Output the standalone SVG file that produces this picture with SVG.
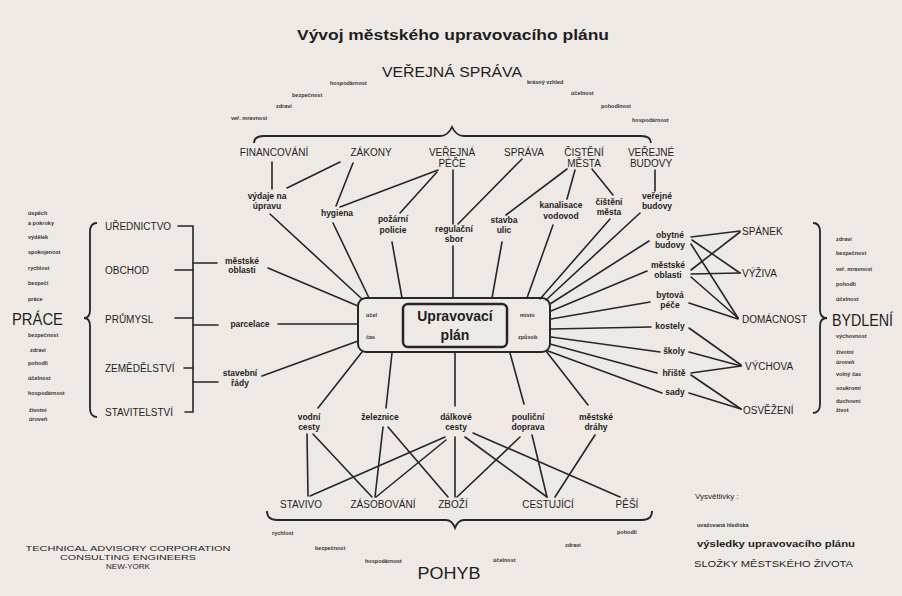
<svg xmlns="http://www.w3.org/2000/svg" width="902" height="596" viewBox="0 0 902 596">
<style>
text{font-family:"Liberation Sans",Arial,sans-serif;fill:#1e1e1e}
.t1{font-size:10px;text-anchor:middle}
.t1s{font-size:10px}
.b9{font-size:8.5px;font-weight:bold;text-anchor:middle}
.sm{font-size:5.5px;font-weight:bold;fill:#333}
.ln line,.ln path,.ln polyline{stroke:#262626;stroke-width:1.6;fill:none;stroke-linecap:round}
.br{stroke:#262626;stroke-width:1.8;fill:none}
</style>
<rect width="902" height="596" fill="#efe9e5"/>

<g id="title">
<text x="453" y="40" style="font-size:14px;font-weight:bold;text-anchor:middle" textLength="312" lengthAdjust="spacingAndGlyphs">Vývoj městského upravovacího plánu</text>
</g>

<g id="verejna-sprava">
<text x="452" y="77" style="font-size:14px;text-anchor:middle" textLength="140" lengthAdjust="spacingAndGlyphs">VEŘEJNÁ SPRÁVA</text>
<text class="sm" x="330" y="85">hospodárnost</text>
<text class="sm" x="292" y="97">bezpečnost</text>
<text class="sm" x="276" y="108">zdraví</text>
<text class="sm" x="231" y="120">veř. mravnost</text>
<text class="sm" x="527" y="84">krásný vzhled</text>
<text class="sm" x="571" y="95">účelnost</text>
<text class="sm" x="601" y="108">pohodlnost</text>
<text class="sm" x="632" y="122">hospodárnost</text>
<path class="br" d="M254,143 Q254,136 264,136 L440,136 Q448,136 452,127 Q456,136 464,136 L641,136 Q651,136 651,143"/>
</g>

<g id="prace">
<text x="12" y="325" style="font-size:16.5px" textLength="51" lengthAdjust="spacingAndGlyphs">PRÁCE</text>
<text class="sm" x="28" y="215">úspěch</text>
<text class="sm" x="28" y="225">a pokroky</text>
<text class="sm" x="28" y="239">výdělek</text>
<text class="sm" x="28" y="254">spokojenost</text>
<text class="sm" x="28" y="270">rychlost</text>
<text class="sm" x="28" y="285">bezpečí</text>
<text class="sm" x="28" y="301">práce</text>
<text class="sm" x="28" y="337">bezpečnost</text>
<text class="sm" x="30" y="352">zdraví</text>
<text class="sm" x="28" y="365">pohodlí</text>
<text class="sm" x="28" y="380">účelnost</text>
<text class="sm" x="28" y="395">hospodárnost</text>
<text class="sm" x="29" y="412">životní</text>
<text class="sm" x="29" y="421">úroveň</text>
<path class="br" d="M97,223 Q90,223 90,232 L90,310 Q90,318 84,318 Q90,318 90,326 L90,408 Q90,417 97,417"/>
</g>

<g id="bydleni">
<text x="832" y="326" style="font-size:16px" textLength="61" lengthAdjust="spacingAndGlyphs">BYDLENÍ</text>
<text class="sm" x="836" y="241">zdraví</text>
<text class="sm" x="836" y="255">bezpečnost</text>
<text class="sm" x="836" y="271">veř. mravnost</text>
<text class="sm" x="836" y="286">pohodlí</text>
<text class="sm" x="836" y="301">účelnost</text>
<text class="sm" x="836" y="338">výchovnost</text>
<text class="sm" x="836" y="354">životní</text>
<text class="sm" x="836" y="364">úroveň</text>
<text class="sm" x="836" y="376">volný čas</text>
<text class="sm" x="836" y="390">soukromí</text>
<text class="sm" x="836" y="403">duchovní</text>
<text class="sm" x="836" y="412">život</text>
<path class="br" d="M813,223 Q820,223 820,232 L820,310 Q820,318 827,318 Q820,318 820,326 L820,404 Q820,413 813,413"/>
</g>

<g id="pohyb">
<text x="449" y="579" style="font-size:16.5px;text-anchor:middle" textLength="63" lengthAdjust="spacingAndGlyphs">POHYB</text>
<text class="sm" x="272" y="535">rychlost</text>
<text class="sm" x="315" y="550">bezpečnost</text>
<text class="sm" x="365" y="563">hospodárnost</text>
<text class="sm" x="493" y="562">účelnost</text>
<text class="sm" x="565" y="547">zdraví</text>
<text class="sm" x="617" y="534">pohodlí</text>
<path class="br" d="M267,511 Q267,520 277,520 L446,520 Q452,520 455,528 Q458,520 464,520 L642,520 Q652,520 652,511"/>
</g>

<g id="upravovaci-plan">
<rect x="358" y="298" width="192" height="54" rx="8" fill="none" stroke="#262626" stroke-width="2"/>
<rect x="403" y="304" width="104" height="43" rx="5" fill="none" stroke="#262626" stroke-width="2.5"/>
<text x="455" y="321" style="font-size:14px;font-weight:bold;text-anchor:middle">Upravovací</text>
<text x="455" y="340" style="font-size:14px;font-weight:bold;text-anchor:middle">plán</text>
<text class="sm" x="366" y="317">účel</text>
<text class="sm" x="366" y="339">čas</text>
<text class="sm" x="520" y="317">místo</text>
<text class="sm" x="518" y="339">způsob</text>
</g>

<g id="financovani"><text class="t1" x="274" y="156">FINANCOVÁNÍ</text></g>
<g id="zakony"><text class="t1" x="371" y="156">ZÁKONY</text></g>
<g id="verejna-pece"><text class="t1" x="452" y="156">VEŘEJNÁ</text><text class="t1" x="452" y="167">PÉČE</text></g>
<g id="sprava"><text class="t1" x="524" y="156">SPRÁVA</text></g>
<g id="cisteni-mesta"><text class="t1" x="584" y="156">ČISTĚNÍ</text><text class="t1" x="584" y="167">MĚSTA</text></g>
<g id="verejne-budovy"><text class="t1" x="651" y="156">VEŘEJNÉ</text><text class="t1" x="651" y="167">BUDOVY</text></g>

<g id="vydaje"><text class="b9" x="267" y="199">výdaje na</text><text class="b9" x="267" y="209">úpravu</text></g>
<g id="hygiena"><text class="b9" x="337" y="216">hygiena</text></g>
<g id="pozarni-policie"><text class="b9" x="393" y="222">požární</text><text class="b9" x="393" y="233">policie</text></g>
<g id="regulacni-sbor"><text class="b9" x="454" y="232">regulační</text><text class="b9" x="454" y="242">sbor</text></g>
<g id="stavba-ulic"><text class="b9" x="504" y="223">stavba</text><text class="b9" x="504" y="233">ulic</text></g>
<g id="kanalisace"><text class="b9" x="561" y="208">kanalisace</text><text class="b9" x="561" y="219">vodovod</text></g>
<g id="cisteni-mesta-2"><text class="b9" x="609" y="205">čištění</text><text class="b9" x="609" y="215">města</text></g>
<g id="verejne-budovy-2"><text class="b9" x="657" y="199">veřejné</text><text class="b9" x="657" y="209">budovy</text></g>

<g id="urednictvo"><text class="t1s" x="105" y="230">UŘEDNICTVO</text></g>
<g id="obchod"><text class="t1s" x="105" y="274">OBCHOD</text></g>
<g id="prumysl"><text class="t1s" x="105" y="323">PRŮMYSL</text></g>
<g id="zemedelstvi"><text class="t1s" x="105" y="372">ZEMĚDĚLSTVÍ</text></g>
<g id="stavitelstvi"><text class="t1s" x="105" y="416">STAVITELSTVÍ</text></g>

<g id="mestske-oblasti-l"><text class="b9" x="242" y="264">městské</text><text class="b9" x="242" y="273">oblasti</text></g>
<g id="parcelace"><text class="b9" x="250" y="327">parcelace</text></g>
<g id="stavebni-rady"><text class="b9" x="240" y="376">stavební</text><text class="b9" x="240" y="386">řády</text></g>

<g id="obytne-budovy"><text class="b9" x="670" y="238">obytné</text><text class="b9" x="670" y="248">budovy</text></g>
<g id="mestske-oblasti-r"><text class="b9" x="668" y="268">městské</text><text class="b9" x="668" y="278">oblasti</text></g>
<g id="bytova-pece"><text class="b9" x="670" y="298">bytová</text><text class="b9" x="670" y="308">péče</text></g>
<g id="kostely"><text class="b9" x="670" y="329">kostely</text></g>
<g id="skoly"><text class="b9" x="674" y="354">školy</text></g>
<g id="hriste"><text class="b9" x="674" y="376">hřiště</text></g>
<g id="sady"><text class="b9" x="675" y="395">sady</text></g>

<g id="spanek"><text class="t1s" x="742" y="235">SPÁNEK</text></g>
<g id="vyziva"><text class="t1s" x="742" y="277">VÝŽIVA</text></g>
<g id="domacnost"><text class="t1s" x="742" y="323">DOMÁCNOST</text></g>
<g id="vychova"><text class="t1s" x="745" y="370">VÝCHOVA</text></g>
<g id="osvezeni"><text class="t1s" x="743" y="414">OSVĚŽENÍ</text></g>

<g id="vodni-cesty"><text class="b9" x="309" y="420">vodní</text><text class="b9" x="309" y="430">cesty</text></g>
<g id="zeleznice"><text class="b9" x="380" y="420">železnice</text></g>
<g id="dalkove-cesty"><text class="b9" x="456" y="420">dálkové</text><text class="b9" x="456" y="430">cesty</text></g>
<g id="poulicni-doprava"><text class="b9" x="528" y="420">pouliční</text><text class="b9" x="528" y="430">doprava</text></g>
<g id="mestske-drahy"><text class="b9" x="596" y="420">městské</text><text class="b9" x="596" y="430">dráhy</text></g>

<g id="stavivo"><text class="t1" x="301" y="508">STAVIVO</text></g>
<g id="zasobovani"><text class="t1" x="383" y="508">ZÁSOBOVÁNÍ</text></g>
<g id="zbozi"><text class="t1" x="453" y="508">ZBOŽÍ</text></g>
<g id="cestujici"><text class="t1" x="548" y="508">CESTUJÍCÍ</text></g>
<g id="pesi"><text class="t1" x="627" y="508">PĚŠÍ</text></g>

<g id="footer">
<text x="128" y="551" style="font-size:8px;text-anchor:middle" textLength="205" lengthAdjust="spacingAndGlyphs">TECHNICAL ADVISORY CORPORATION</text>
<text x="128" y="560" style="font-size:8px;text-anchor:middle" textLength="136" lengthAdjust="spacingAndGlyphs">CONSULTING ENGINEERS</text>
<text x="128" y="569" style="font-size:8px;text-anchor:middle">NEW-YORK</text>
</g>

<g id="legend">
<text x="695" y="499" style="font-size:8px">Vysvětlivky :</text>
<text class="sm" x="697" y="527">uvažovaná hlediska</text>
<text x="697" y="547" style="font-size:8.5px;font-weight:bold" textLength="158" lengthAdjust="spacingAndGlyphs">výsledky  upravovacího plánu</text>
<text x="694" y="567" style="font-size:8.5px" textLength="159" lengthAdjust="spacingAndGlyphs">SLOŽKY MĚSTSKÉHO ŽIVOTA</text>
</g>

<g id="connectors" class="ln">
<line x1="272" y1="162" x2="272" y2="189"/>
<line x1="340" y1="162" x2="287" y2="188"/>
<line x1="353" y1="163" x2="336" y2="206"/>
<line x1="438" y1="170" x2="340" y2="207"/>
<line x1="437" y1="172" x2="400" y2="213"/>
<line x1="453" y1="170" x2="453" y2="224"/>
<line x1="522" y1="159" x2="458" y2="224"/>
<line x1="567" y1="169" x2="506" y2="215"/>
<line x1="575" y1="170" x2="567" y2="199"/>
<line x1="592" y1="169" x2="613" y2="195"/>
<line x1="655" y1="170" x2="655" y2="191"/>

<line x1="270" y1="214" x2="362" y2="299"/>
<line x1="333" y1="223" x2="369" y2="298"/>
<line x1="392" y1="242" x2="402" y2="298"/>
<line x1="453" y1="246" x2="453" y2="298"/>
<line x1="502" y1="242" x2="492" y2="298"/>
<line x1="553" y1="225" x2="527" y2="298"/>
<line x1="610" y1="219" x2="540" y2="299"/>
<line x1="640" y1="213" x2="546" y2="300"/>

<line x1="649" y1="241" x2="550" y2="304"/>
<line x1="647" y1="271" x2="551" y2="311"/>
<line x1="650" y1="302" x2="551" y2="319"/>
<line x1="651" y1="327" x2="551" y2="329"/>
<line x1="660" y1="352" x2="551" y2="337"/>
<line x1="657" y1="373" x2="550" y2="344"/>
<line x1="662" y1="393" x2="548" y2="351"/>

<line x1="691" y1="237" x2="740" y2="231"/>
<line x1="692" y1="240" x2="740" y2="273"/>
<line x1="691" y1="244" x2="738" y2="318"/>
<line x1="691" y1="270" x2="740" y2="232"/>
<line x1="691" y1="274" x2="740" y2="273"/>
<line x1="691" y1="277" x2="738" y2="318"/>
<line x1="689" y1="303" x2="738" y2="319"/>
<line x1="689" y1="328" x2="741" y2="365"/>
<line x1="689" y1="352" x2="741" y2="366"/>
<line x1="691" y1="373" x2="741" y2="366"/>
<line x1="691" y1="375" x2="741" y2="409"/>
<line x1="689" y1="393" x2="741" y2="409"/>

<polyline points="178,226 193,226 193,412 185,412"/>
<line x1="175" y1="270" x2="193" y2="270"/>
<line x1="175" y1="318" x2="193" y2="318"/>
<line x1="184" y1="368" x2="193" y2="368"/>
<line x1="193" y1="263" x2="217" y2="263"/>
<line x1="193" y1="325" x2="218" y2="325"/>
<line x1="193" y1="382" x2="218" y2="382"/>
<line x1="268" y1="268" x2="358" y2="306"/>
<line x1="278" y1="324" x2="358" y2="324"/>
<line x1="262" y1="376" x2="358" y2="341"/>

<line x1="362" y1="352" x2="318" y2="408"/>
<line x1="392" y1="353" x2="386" y2="408"/>
<line x1="455" y1="353" x2="455" y2="406"/>
<line x1="510" y1="353" x2="524" y2="404"/>
<line x1="546" y1="351" x2="588" y2="405"/>

<line x1="307" y1="434" x2="308" y2="496"/>
<line x1="313" y1="434" x2="372" y2="497"/>
<line x1="383" y1="427" x2="375" y2="497"/>
<line x1="388" y1="427" x2="448" y2="497"/>
<line x1="445" y1="437" x2="310" y2="496"/>
<line x1="446" y1="440" x2="376" y2="497"/>
<line x1="455" y1="437" x2="455" y2="497"/>
<line x1="465" y1="437" x2="547" y2="497"/>
<line x1="473" y1="433" x2="620" y2="497"/>
<line x1="520" y1="437" x2="457" y2="497"/>
<line x1="532" y1="435" x2="547" y2="497"/>
<line x1="595" y1="435" x2="555" y2="497"/>
</g>
</svg>
